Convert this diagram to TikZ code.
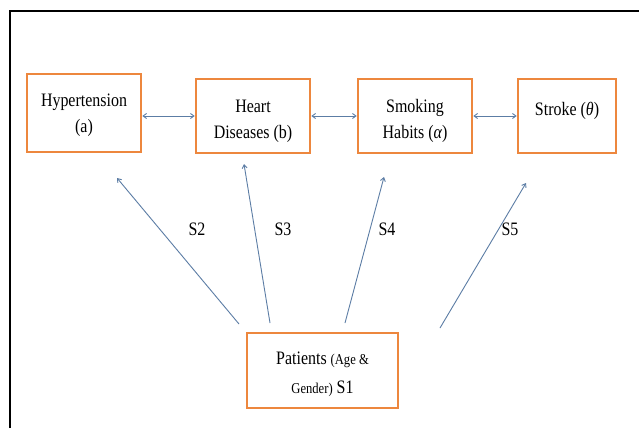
\documentclass[tikz,border=0pt]{standalone}
\usepackage{fontspec}
\setmainfont{Liberation Serif}[FakeStretch=0.84]
\usetikzlibrary{arrows.meta}
\definecolor{boxorange}{RGB}{237,135,62}
\definecolor{arrowblue}{RGB}{92,125,165}
\tikzset{
  box/.style={draw=boxorange, line width=2.6pt, fill=white, inner sep=0pt},
  txt/.style={align=center, inner sep=0pt, font=\fontsize{19}{26}\selectfont},
  link/.style={draw=arrowblue, line width=0.9pt, {Straight Barb[length=3.5pt,width=5pt]}-{Straight Barb[length=3.5pt,width=5pt]}},
  ray/.style={draw=arrowblue, line width=0.9pt, -{Straight Barb[length=3.5pt,width=5pt]}},
  lab/.style={font=\fontsize{19}{22}\selectfont, inner sep=0pt},
  frame/.style={draw=black, line width=2pt}
}
\begin{document}
\begin{tikzpicture}[x=1pt,y=-1pt]
\useasboundingbox (0,0) rectangle (639,428);
\fill[white] (0,0) rectangle (639,428);
\coordinate (f1) at (10,428);
\coordinate (f2) at (10,11);
\coordinate (f3) at (639,11);
\draw[frame] (f1) -- (f2) -- (f3);

\node[box, minimum width=114pt, minimum height=78pt] (hyp) at (84,113) {};
\node[box, minimum width=114pt, minimum height=74pt] (heart) at (253,116) {};
\node[box, minimum width=114pt, minimum height=74pt] (smoke) at (415,116) {};
\node[box, minimum width=98pt, minimum height=74pt] (stroke) at (567,116) {};
\node[box, minimum width=151pt, minimum height=75pt] (pat) at (322.5,370.5) {};

\node[txt] (hyptxt) at (84,115) {Hypertension\\(a)};
\node[txt] (hearttxt) at (253,121) {Heart\\Diseases (b)};
\node[txt] (smoketxt) at (415,121) {Smoking\\Habits ({\itshape α})};
\node[txt, anchor=base] (stroketxt) at (567,115) {Stroke ({\itshape θ})};
\node[txt, font=\fontsize{19}{29}\selectfont] (pattxt) at (322.5,374)
  {Patients {\fontsize{15}{29}\selectfont (Age \&}\\{\fontsize{15}{29}\selectfont Gender)} S1};

\draw[link] (hyp.east |- heart.west) -- (heart.west);
\draw[link] (heart.east) -- (smoke.west);
\draw[link] (smoke.east) -- (stroke.west);

\coordinate (s2a) at (239,324);
\coordinate (s2b) at (117,178);
\coordinate (s3a) at (270,323);
\coordinate (s3b) at (244,164);
\coordinate (s4a) at (345,323);
\coordinate (s4b) at (384,177);
\coordinate (s5a) at (440,328);
\coordinate (s5b) at (526,183);
\draw[ray] (s2a) -- (s2b);
\draw[ray] (s3a) -- (s3b);
\draw[ray] (s4a) -- (s4b);
\draw[ray] (s5a) -- (s5b);

\node[lab] (l2) at (197,229) {S2};
\node[lab] (l3) at (283,229) {S3};
\node[lab] (l4) at (387,229) {S4};
\node[lab] (l5) at (510,229) {S5};
\end{tikzpicture}
\end{document}
